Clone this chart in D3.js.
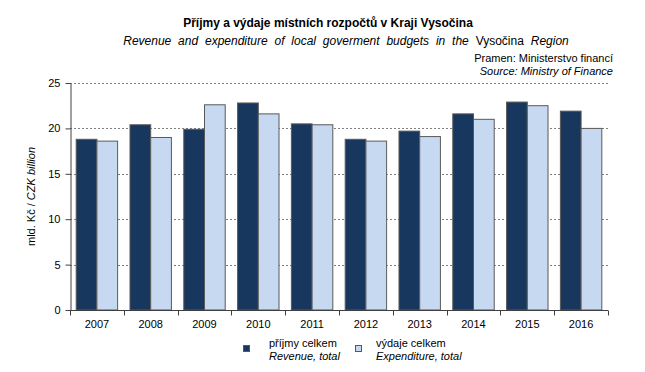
<!DOCTYPE html>
<html>
<head>
<meta charset="utf-8">
<script src="https://d3js.org/d3.v7.min.js"></script>
<style>
  body { margin: 0; background: #fff; }
  svg { font-family: Arial, "Liberation Sans", sans-serif; }
</style>
</head>
<body>
<div id="chart"></div>
<script>
// chart data
var years = ["2007", "2008", "2009", "2010", "2011", "2012", "2013", "2014", "2015", "2016"];
var revenue = [18.8, 20.4, 19.9, 22.8, 20.5, 18.8, 19.7, 21.6, 22.9, 21.9];
var expenditure = [18.6, 19.0, 22.6, 21.6, 20.4, 18.6, 19.1, 21.0, 22.5, 20.0];
var yTicks = [0, 5, 10, 15, 20, 25];

var width = 645, height = 372;
var margin = {left: 70, right: 37, top: 83, bottom: 62};

var svg = d3.select("#chart").append("svg")
    .attr("width", width)
    .attr("height", height);

var x = d3.scaleBand().domain(years)
    .range([margin.left, width - margin.right])
    .paddingInner(0.23).paddingOuter(0.115);
var inner = d3.scaleBand().domain(["r", "e"]).range([0, x.bandwidth()]);
var y = d3.scaleLinear().domain([0, 25]).range([height - margin.bottom, margin.top]);

// dotted gridlines
svg.append("g").selectAll("line")
    .data(yTicks.filter(function(d) { return d > 0; }))
    .enter().append("line")
    .attr("x1", margin.left).attr("x2", width - margin.right)
    .attr("y1", function(d) { return Math.round(y(d)) + 0.5; })
    .attr("y2", function(d) { return Math.round(y(d)) + 0.5; })
    .style("stroke", "#808080")
    .style("stroke-dasharray", "2,2");

// bars
var groups = svg.append("g").selectAll("g")
    .data(years)
    .enter().append("g")
    .attr("transform", function(d) { return "translate(" + x(d) + ",0)"; });

groups.append("rect")
    .attr("x", inner("r"))
    .attr("y", function(d, i) { return y(revenue[i]); })
    .attr("width", inner.bandwidth())
    .attr("height", function(d, i) { return y(0) - y(revenue[i]); })
    .style("fill", "#17375E")
    .style("stroke", "#595959")
    .style("stroke-width", 1);

groups.append("rect")
    .attr("x", inner("e"))
    .attr("y", function(d, i) { return y(expenditure[i]); })
    .attr("width", inner.bandwidth())
    .attr("height", function(d, i) { return y(0) - y(expenditure[i]); })
    .style("fill", "#C6D9F1")
    .style("stroke", "#595959")
    .style("stroke-width", 1);

// y axis
var yAxis = svg.append("g")
    .attr("transform", "translate(" + (margin.left + 0.5) + ",0)")
    .call(d3.axisLeft(y).tickValues(yTicks).tickSize(5).tickSizeOuter(0));
yAxis.select(".domain").style("stroke", "#404040");
yAxis.selectAll(".tick line").style("stroke", "#404040");
yAxis.selectAll("text").style("font-size", "11px").style("fill", "#000").attr("x", -10);

// x axis with ticks at category boundaries
var xAxisY = Math.round(y(0)) + 0.5;
svg.append("line")
    .attr("x1", margin.left).attr("x2", width - margin.right)
    .attr("y1", xAxisY).attr("y2", xAxisY)
    .style("stroke", "#404040");
var step = x.step();
svg.append("g").selectAll("line")
    .data(d3.range(years.length + 1))
    .enter().append("line")
    .attr("x1", function(i) { return Math.round(margin.left + i * step) + 0.5; })
    .attr("x2", function(i) { return Math.round(margin.left + i * step) + 0.5; })
    .attr("y1", xAxisY).attr("y2", xAxisY + 5)
    .style("stroke", "#404040");
svg.append("g").selectAll("text")
    .data(years)
    .enter().append("text")
    .attr("x", function(d) { return x(d) + x.bandwidth() / 2; })
    .attr("y", xAxisY + 17)
    .attr("text-anchor", "middle")
    .style("font-size", "11px")
    .text(function(d) { return d; });

// titles
svg.append("text")
    .attr("x", 328).attr("y", 27)
    .attr("text-anchor", "middle")
    .style("font-size", "12px").style("font-weight", "bold")
    .text("Příjmy a výdaje místních rozpočtů v Kraji Vysočina");

var sub = svg.append("text")
    .attr("x", 346).attr("y", 45)
    .attr("text-anchor", "middle")
    .style("font-size", "12px")
    .style("word-spacing", "3.5px");
sub.append("tspan").style("font-style", "italic").text("Revenue and expenditure of local goverment budgets in the ");
sub.append("tspan").text("Vysočina ");
sub.append("tspan").style("font-style", "italic").text("Region");

svg.append("text")
    .attr("x", 613).attr("y", 62)
    .attr("text-anchor", "end")
    .style("font-size", "11px")
    .text("Pramen: Ministerstvo financí");
svg.append("text")
    .attr("x", 613).attr("y", 75)
    .attr("text-anchor", "end")
    .style("font-size", "11px").style("font-style", "italic")
    .text("Source: Ministry of Finance");

// y axis title
var yt = svg.append("text")
    .attr("transform", "translate(35," + ((margin.top + height - margin.bottom) / 2) + ") rotate(-90)")
    .attr("text-anchor", "middle")
    .style("font-size", "11px");
yt.append("tspan").text("mld. Kč / ");
yt.append("tspan").style("font-style", "italic").text("CZK billion");

// legend
var legend = [
  {cz: "příjmy celkem", en: "Revenue, total", color: "#17375E", x: 243},
  {cz: "výdaje celkem", en: "Expenditure, total", color: "#C6D9F1", x: 355}
];
var lg = svg.append("g").selectAll("g")
    .data(legend)
    .enter().append("g")
    .attr("transform", function(d) { return "translate(" + d.x + ",0)"; });
lg.append("rect")
    .attr("x", 0.5).attr("y", 345.5)
    .attr("width", 6).attr("height", 6)
    .style("fill", function(d) { return d.color; })
    .style("stroke", "#595959");
lg.append("text")
    .attr("x", function(d, i) { return i == 0 ? 26 : 21; }).attr("y", 347)
    .style("font-size", "11px")
    .text(function(d) { return d.cz; });
lg.append("text")
    .attr("x", function(d, i) { return i == 0 ? 26 : 21; }).attr("y", 360)
    .style("font-size", "11px").style("font-style", "italic")
    .text(function(d) { return d.en; });
</script>
</body>
</html>
